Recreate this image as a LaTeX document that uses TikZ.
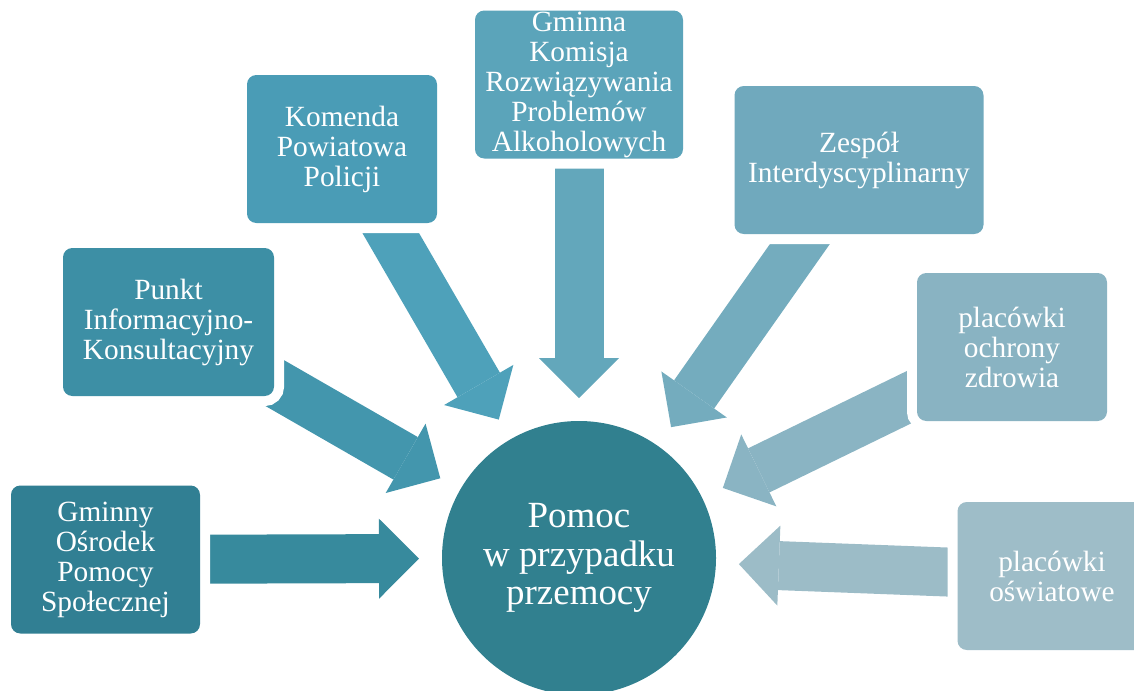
\documentclass[tikz,border=0pt]{standalone}
\usepackage{fontspec}
\setmainfont{Liberation Serif}
\usepackage{tikz}
\usetikzlibrary{arrows.meta,backgrounds}

\definecolor{c1}{HTML}{317F93}
\definecolor{c2}{HTML}{3D8FA5}
\definecolor{c3}{HTML}{4A9CB6}
\definecolor{c4}{HTML}{5BA4BA}
\definecolor{c5}{HTML}{70A9BD}
\definecolor{c6}{HTML}{89B3C2}
\definecolor{c7}{HTML}{9EBDC8}
\definecolor{cc}{HTML}{31808F}
\definecolor{a1}{HTML}{378A9D}
\definecolor{a2}{HTML}{4396AD}
\definecolor{a3}{HTML}{4EA1BA}
\definecolor{a4}{HTML}{63A7BB}
\definecolor{a5}{HTML}{74ACBE}
\definecolor{a6}{HTML}{8AB4C3}
\definecolor{a7}{HTML}{9CBCC7}

\tikzset{
  box/.style={rounded corners=7pt, minimum height=111pt, inner sep=0pt,
    align=center, text=white, font=\fontsize{22}{22.5}\selectfont,
    preaction={draw=white, line width=15pt}},
  blockarrow/.style={line width=36.75pt, shorten >=120pt,
    -{Triangle[length=30pt, width=60pt, line width=0pt]}}
}

\begin{document}
\begin{tikzpicture}[x=0.75pt, y=-0.75pt]
\useasboundingbox (0,0) rectangle (1134,690);
% Centre
\node[circle, fill=cc, minimum size=205.5pt, inner sep=0pt, align=center,
  text=white, font=\fontsize{27.7}{29}\selectfont] (pomoc) at (579,558)
  {Pomoc\\w przypadku\\przemocy};
% Boxes
\foreach \name/\x/\y/\w/\col/\lab in {
    gops/105.5/559.5/141.75/c1/Gminny\\Ośrodek\\Pomocy\\Społecznej,
    pik/168.5/322/158.25/c2/Punkt\\Informacyjno-\\Konsultacyjny,
    kpp/342/149/142.5/c3/Komenda\\Powiatowa\\Policji,
    gkrpa/579/84.5/156/c4/Gminna\\Komisja\\Rozwiązywania\\Problemów\\Alkoholowych,
    zi/859/160/186.75/c5/Zespół\\Interdyscyplinarny,
    poz/1012/347/142.5/c6/placówki\\ochrony\\zdrowia,
    po/1052/576/141.75/c7/placówki\\oświatowe} {
    \node[box, fill=\col, minimum width=\w pt] (\name) at (\x,\y) {\lab};
}
% Arrows
\begin{scope}[on background layer]
\foreach \src/\col in {gops/a1, pik/a2, kpp/a3, gkrpa/a4, zi/a5, poz/a6, po/a7} {
    \draw[blockarrow, draw=\col] (\src.center) -- (pomoc.center);
}
\end{scope}
\end{tikzpicture}
\end{document}
